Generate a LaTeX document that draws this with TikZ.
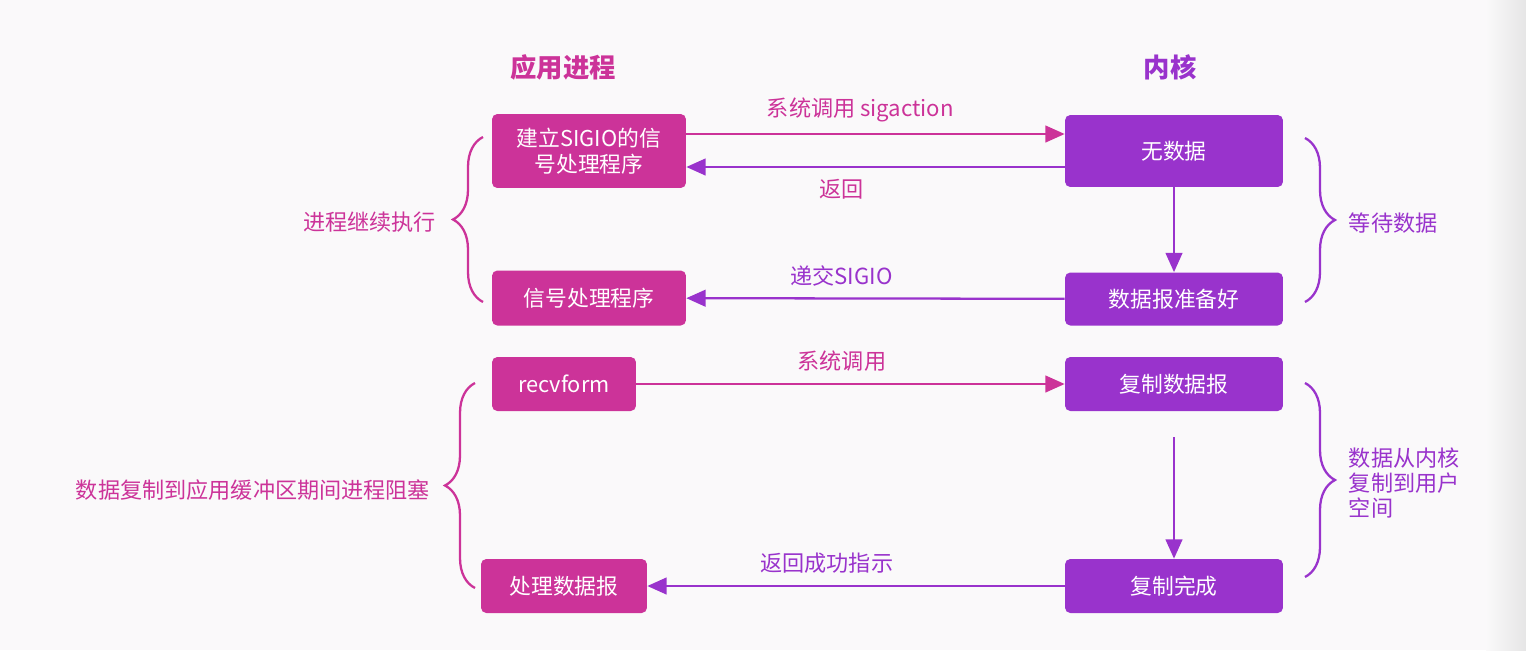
\documentclass[tikz,border=0pt]{standalone}
\usepackage{fontspec}
\newfontfamily\cjk{Noto Sans CJK SC}
\usetikzlibrary{arrows.meta, decorations.pathreplacing, positioning}
\definecolor{appc}{HTML}{CC3399}
\definecolor{kerc}{HTML}{9933CC}
\definecolor{bgc}{RGB}{250,249,250}

\begin{document}
\begin{tikzpicture}[
    x=0.02cm, y=-0.02cm,
    >={Triangle[length=11pt,width=9.5pt]},
    font=\cjk,
    box/.style={
        rounded corners=3pt, align=center, text=white, inner sep=0pt,
        font=\cjk\fontsize{12.4}{14.8}\selectfont
    },
    appbox/.style={box, fill=appc},
    kerbox/.style={box, fill=kerc},
    lbl/.style={font=\cjk\fontsize{12.6}{14.2}\selectfont, inner sep=2pt},
    title/.style={font=\cjk\bfseries\fontsize{15}{18}\selectfont},
    apparr/.style={->, draw=appc, line width=1.3pt},
    kerarr/.style={->, draw=kerc, line width=1.3pt},
    brc/.style={decorate, decoration={brace, amplitude=0.6cm}, line width=1.3pt},
]
% ---------- background ----------
\fill[bgc] (0,0) rectangle (1526,650);
\shade[left color=bgc, right color=gray!20] (1486,0) rectangle (1526,650);
\useasboundingbox (0,0) rectangle (1526,650);
% ---------- column titles ----------
\node[title, text=appc] (apptitle) at (563,67)  {应用进程};
\node[title, text=kerc] (kertitle) at (1170,67) {内核};
% ---------- stage 1 : signal handler setup ----------
\node[appbox, minimum width=3.88cm, minimum height=1.48cm] (setup) at (589,151)
    {建立SIGIO的信\\号处理程序};
\node[kerbox, minimum width=4.36cm, minimum height=1.44cm] (nodata) at (1174,151) {无数据};
% ---------- stage 2 : datagram ready ----------
\node[appbox, minimum width=3.88cm, minimum height=1.1cm] (handler) at (589,298) {信号处理程序};
\node[kerbox, minimum width=4.36cm, minimum height=1.06cm] (ready) at (1174,299) {数据报准备好};
% ---------- stage 3 : copy ----------
\node[appbox, minimum width=2.88cm, minimum height=1.08cm] (recv) at (564,384) {recvform};
\node[kerbox, minimum width=4.36cm, minimum height=1.08cm] (copy) at (1174,384) {复制数据报};
\node[appbox, minimum width=3.32cm, minimum height=1.08cm] (process) at (564,586) {处理数据报};
\node[kerbox, minimum width=4.36cm, minimum height=1.08cm] (done) at (1174,586) {复制完成};
% ===================== EDGES =====================
\draw[apparr] ([yshift=0.34cm]setup.east) -- ([yshift=0.34cm]nodata.west)
    node[lbl, text=appc, pos=0.46, above=0.15cm] {系统调用 sigaction};
\draw[kerarr] ([yshift=-0.32cm]nodata.west) -- ([yshift=-0.32cm]setup.east)
    node[lbl, text=appc, pos=0.59, below=0.15cm] {返回};
\draw[kerarr] (nodata) -- (ready);
\draw[kerarr] (ready) -- (handler)
    node[lbl, text=kerc, pos=0.59, above=0.15cm] {递交SIGIO};
\draw[apparr] (recv) -- (copy)
    node[lbl, text=appc, pos=0.48, above=0.15cm] {系统调用};
\draw[kerarr] ([yshift=-0.52cm]copy.south) -- (done);
\draw[kerarr] (done) -- (process)
    node[lbl, text=kerc, pos=0.57, above=0.15cm] {返回成功指示};
% ---------- braces ----------
\draw[brc, appc] (483,302) -- (483,137);
\node[lbl, text=appc, anchor=east] (goon) at (440,222) {进程继续执行};
\draw[brc, appc] (475,588) -- (475,383);
\node[lbl, text=appc, anchor=east] (block) at (434,490) {数据复制到应用缓冲区期间进程阻塞};
\draw[brc, kerc] (1305,138) -- (1305,302);
\node[lbl, text=kerc, anchor=west] (wait) at (1345,223) {等待数据};
\draw[brc, kerc] (1305,383) -- (1305,577);
\node[lbl, text=kerc, anchor=west, align=left] (tocopy) at (1345,483) {数据从内核\\复制到用户\\空间};
\end{tikzpicture}
\end{document}
